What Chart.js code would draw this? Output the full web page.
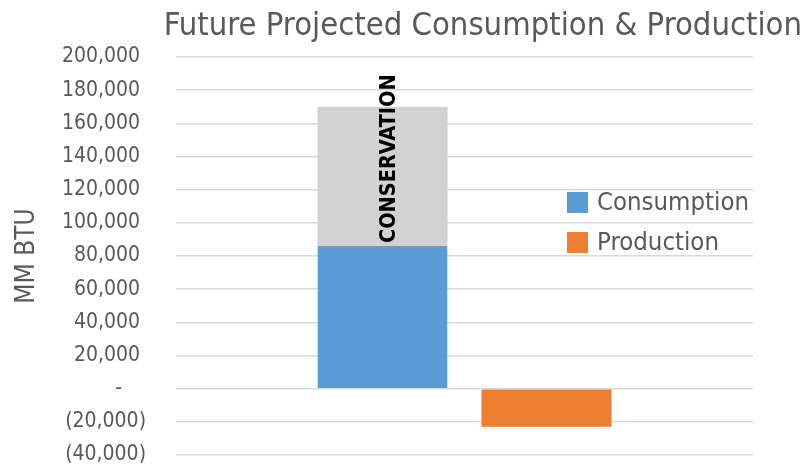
<!DOCTYPE html>
<html>
<head>
<meta charset="utf-8">
<script src="https://cdn.jsdelivr.net/npm/chart.js@4.4.0/dist/chart.umd.min.js"></script>
<style>
  html, body { margin: 0; padding: 0; background: #fff; }
  #wrap { width: 810px; height: 472px; }
</style>
</head>
<body>
<div id="wrap"><canvas id="chart" width="810" height="472"></canvas></div>
<script>
// data (MM BTU)
const categories = [''];
const consumption = [86000];
const conservation = [84000];   // stacked on top of consumption, up to ~170,000
const production = [-23000];
const seriesNames = ['Consumption', 'Conservation', 'Production'];
const legendNames = ['Consumption', 'Production'];

const FONT = "'DejaVu Sans Condensed', 'Liberation Sans Narrow', sans-serif";
const GREY_TEXT = '#595959';

// accounting style ticks: 20,000 / - / (20,000)
function fmtTick(v) {
  if (v === 0) return '-\u2007\u2007';
  const s = Math.abs(v).toLocaleString('en-US');
  return v < 0 ? '(' + s + ')' : s + ' ';
}

// legend sits inside the plot, drawn by hand
const insideLegend = {
  id: 'insideLegend',
  afterDraw(chart) {
    const ctx = chart.ctx;
    ctx.save();
    ctx.font = '25.5px ' + FONT;
    ctx.textBaseline = 'middle';
    ctx.textAlign = 'left';
    legendNames.forEach((name, i) => {
      const ds = chart.data.datasets.find(d => d.label === name);
      const y = 192 + i * 40;
      ctx.fillStyle = ds.backgroundColor;
      ctx.fillRect(567, y, 21, 21);
      ctx.fillStyle = GREY_TEXT;
      ctx.fillText(name, 597, y + 11);
    });
    ctx.restore();
  }
};

// vertical "CONSERVATION" label on the grey segment
const conservationLabel = {
  id: 'conservationLabel',
  afterDatasetsDraw(chart) {
    const idx = chart.data.datasets.findIndex(d => d.label === 'Conservation');
    const bar = chart.getDatasetMeta(idx).data[0];
    if (!bar) return;
    const ctx = chart.ctx;
    ctx.save();
    ctx.translate(bar.x + 7, bar.base - 3);
    ctx.rotate(-Math.PI / 2);
    ctx.font = 'bold 21.5px ' + FONT;
    ctx.fillStyle = '#000';
    ctx.textAlign = 'left';
    ctx.textBaseline = 'middle';
    ctx.fillText('CONSERVATION', 0, 0);
    ctx.restore();
  }
};

new Chart(document.getElementById('chart'), {
  type: 'bar',
  data: {
    labels: categories,
    datasets: [
      {
        label: seriesNames[0], data: consumption, backgroundColor: '#5b9bd5', stack: 'use',
        // thin darker band where blue meets grey
        borderColor: '#7098c2', borderWidth: { top: 3, left: 0, right: 0, bottom: 0 }
      },
      { label: seriesNames[1], data: conservation, backgroundColor: '#d2d2d2', stack: 'use' },
      { label: seriesNames[2], data: production, backgroundColor: '#ed7d31', stack: 'prod' }
    ]
  },
  options: {
    responsive: false,
    animation: false,
    categoryPercentage: 0.5685,
    barPercentage: 0.793,
    layout: { padding: { left: 0, right: 8, top: 0, bottom: 17 } },
    plugins: {
      legend: { display: false },
      tooltip: { enabled: false },
      title: {
        display: true,
        text: 'Future Projected Consumption & Production',
        align: 'end',
        color: GREY_TEXT,
        font: { family: FONT, size: 32.5, weight: 'normal', lineHeight: 1.2 },
        padding: { top: 7, bottom: 11 }
      }
    },
    scales: {
      x: { stacked: true, display: false },
      y: {
        stacked: true,
        min: -40000,
        max: 200000,
        border: { display: false },
        // tick marks kept invisible: they only push the labels away from the plot
        grid: { color: '#d9d9d9', lineWidth: 1.5, drawTicks: true, tickLength: 30, tickColor: 'rgba(0,0,0,0)' },
        ticks: {
          stepSize: 20000,
          autoSkip: false,
          padding: 0,
          color: GREY_TEXT,
          font: { family: FONT, size: 21 },
          callback: v => fmtTick(v)
        },
        title: {
          display: true,
          text: 'MM BTU',
          color: GREY_TEXT,
          font: { family: FONT, size: 26, lineHeight: 1.2 },
          padding: { top: 12, bottom: 0 }
        },
        afterFit(s) { s.width = 176; }
      },
      // empty box on the right so the plot ends before the title does
      yRight: {
        position: 'right',
        display: true,
        border: { display: false },
        grid: { display: false },
        ticks: { display: false },
        afterFit(s) { s.width = 49; }
      }
    }
  },
  plugins: [insideLegend, conservationLabel]
});
</script>
</body>
</html>
